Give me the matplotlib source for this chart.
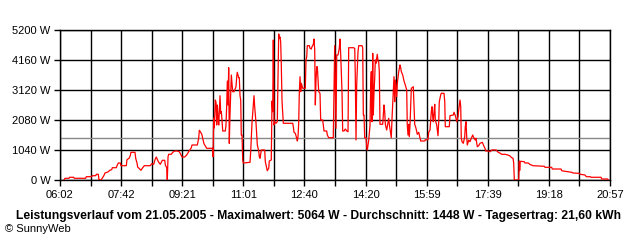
import numpy as np
import matplotlib
matplotlib.use("Agg")
import matplotlib.pyplot as plt

# ----------------------------------------------
# DATA
# ----------------------------------------------
# minutes after 06:02 and power in W
minutes = [
    6.5, 8.1, 14.6, 15.8, 22.3, 23.3, 41.8, 42.8, 51.6, 52.6, 58.1, 59.1, 62.3, 63.5,
    66.7, 67.9, 71.1, 73.2, 76.5, 78.6, 80.9, 84.1, 85.1, 91.6, 92.8, 94.9, 98.1, 99.3,
    107.9, 109.0, 112.3, 114.4, 115.5, 122.0, 123.2, 125.3, 126.4, 129.7, 131.8, 133.9,
    137.2, 146.9, 149.2, 152.5, 154.6, 156.7, 160.0, 163.2, 166.5,
    170.4, 171.4, 173.6, 174.6, 175.8, 176.9, 181.1, 183.4, 186.7, 190.9, 194.1, 196.4,
    198.5, 202.9, 206.2, 209.4, 213.7, 214.8, 223.4, 225.7, 226.7, 229.0, 231.1, 232.2,
    234.3, 238.7, 248.5, 249.0, 250.1, 251.1, 252.7, 253.9, 255.0, 256.0, 257.1, 258.3,
    259.2, 260.4, 261.5, 262.5, 263.6, 264.8, 269.0, 270.1, 271.3, 272.3, 273.4, 274.5,
    275.5, 276.6, 277.8, 278.8, 279.9, 281.0, 283.2, 286.4, 287.6, 288.5, 289.7, 290.8,
    291.8, 292.9, 294.1, 295.0, 296.2, 297.3, 298.3, 309.2, 310.3, 312.4, 314.6, 315.7,
    316.8, 319.0, 321.1, 323.4, 324.3, 325.5, 327.6, 333.1,
    334.1, 336.4, 337.3, 339.6, 340.6, 343.8, 345.0, 346.1, 347.1, 348.3, 349.4, 351.5,
    353.6, 354.8, 355.9, 356.9, 358.0, 359.1, 360.1, 361.3, 363.4, 378.7, 379.7, 380.8,
    382.9, 385.2, 386.2, 387.3, 388.4, 389.4, 390.6, 391.7, 392.7, 395.0, 399.2, 400.3,
    401.5, 402.4, 405.7, 406.8, 408.9, 410.1, 412.2, 413.3, 414.5, 415.5, 416.6, 417.7,
    418.7, 421.0, 423.1, 424.2, 427.5, 428.5, 429.6, 434.0, 435.0, 437.2, 444.7, 445.9,
    447.0, 448.0, 449.1, 450.3, 452.4, 453.5, 454.5, 455.6, 456.8, 458.9, 460.0, 462.2,
    464.3, 466.6, 468.7, 469.8, 477.3, 479.6, 480.5, 481.7, 482.8, 484.9, 486.1, 491.4,
    492.6, 493.6, 494.7, 495.8, 498.0, 499.1, 500.1, 501.2, 502.4, 503.3, 504.5, 505.6,
    506.6, 507.7, 508.9, 509.8, 511.0, 512.1, 513.1, 514.2, 516.3, 517.5, 518.6, 519.6,
    520.7, 525.1, 527.2, 528.4, 529.4, 531.6, 532.6, 534.9, 535.9, 538.1, 539.1, 540.3,
    542.4, 543.5, 544.7, 545.6, 547.9, 548.9, 551.2, 553.3, 554.4, 555.4, 557.7, 559.8,
    561.9, 564.2, 565.1, 566.3, 567.4, 568.4, 569.6, 571.7, 574.9, 577.2, 579.3, 581.4,
    583.7, 584.7, 587.0, 593.5, 594.5, 598.8, 600.0, 602.1, 604.2, 605.4, 606.5, 607.5,
    608.6, 609.8, 610.7, 613.0, 615.1, 616.3, 617.2, 619.5, 620.5, 624.9, 626.1, 627.0,
    633.5, 634.6, 640.0, 641.2, 643.3, 644.4, 645.6, 647.7, 648.8, 649.8, 650.9, 652.1,
    653.0, 654.2, 656.3, 657.4, 658.6, 659.5, 660.7, 661.8, 662.8, 665.1, 667.2, 669.3,
    671.6, 673.7, 675.8, 676.9, 679.1, 681.3, 683.5,
    687.2, 689.5, 691.6, 692.7, 697.0, 700.2, 702.5, 710.0, 711.1, 713.2, 716.5, 718.8,
    724.2, 728.5, 731.8, 735.0, 737.2, 738.3, 739.3, 746.4, 747.4, 748.0, 749.0, 755.6,
    756.7, 762.1, 764.4, 769.7, 788.1, 789.2, 800.1, 801.1, 815.3, 816.4, 821.8, 832.7,
    834.8, 844.6, 846.7, 854.3, 856.5, 863.0, 864.1, 880.4, 881.5, 891.2, 892.2,
]
watts = [
    0, 59, 59, 94, 94, 59, 59, 114, 114, 149, 149, 198, 198, 0,
    0, 35, 139, 243, 267, 288, 336, 357, 426, 426, 496, 589, 589, 496,
    496, 704, 752, 842, 960, 960, 752, 589, 451, 381, 336, 406,
    496, 496, 565, 544, 704, 797, 634, 544, 683,
    683, 520, 426, 0, 808, 891, 891, 960, 1005, 1005, 981, 891,
    797, 797, 867, 981, 1120, 1213, 1213, 1446, 1723, 1654, 1560, 1446,
    1258, 1099, 1099, 808, 2149, 1803, 2773, 2694, 1907, 2600, 2194, 1907,
    2312, 2922, 2312, 2368, 2080, 1699, 1699, 1907, 2600, 3432, 2600, 3893,
    1272, 2253, 3061, 3640, 3352, 3061, 3061, 3234, 3581, 3734, 3640, 3546,
    3546, 2922, 2773, 1560, 1560, 693, 589, 614, 981, 1966, 2600, 2922,
    2541, 1966, 1213, 1005, 808, 752, 1040, 1040,
    634, 406, 322, 406, 659, 693, 2739, 2368, 4853, 1907, 2021, 1966,
    2021, 3640, 5064, 4912, 4957, 4794, 3987, 2739, 1966, 1966, 1848, 1654,
    1619, 1446, 1352, 1501, 1966, 3006, 3581, 3061, 3352, 3179, 3179, 4160,
    4274, 4656, 4656, 4566, 4541, 4621, 4704, 4888, 4507, 2600, 3467, 3928,
    3928, 3061, 3006, 2080, 2080, 1907, 1699, 1699, 1560, 1466, 1466, 3061,
    4656, 3293, 1792, 4333, 4333, 4448, 4586, 4888, 4333, 3061, 1699, 1699,
    1768, 1699, 1674, 4586, 4586, 4566, 3640, 1387, 3293, 4448, 4656, 4656,
    4586, 2253, 2253, 1466, 1466, 1154, 1040, 1213, 1387, 1619, 1907, 3293,
    3754, 2021, 4392, 2253, 3061, 3526, 4160, 4045, 4358, 4125, 4101, 3754,
    1931, 1931, 2600, 2368, 1931, 1733, 1848, 2139, 1931, 1619, 1466, 2139,
    3061, 3581, 2714, 3467, 2888, 3352, 3754, 3987, 3893, 3754, 3640, 3432,
    3293, 3120, 1907, 1560, 1931, 1501, 1931, 3179, 3234, 1931, 1792, 1584,
    1654, 1560, 1352, 1352, 1397, 1397, 1654, 1733, 2368, 2541, 2194, 2021,
    2347, 2624, 2080, 1907, 1536, 2021, 2714, 2947, 3006, 3006, 2714, 1848,
    1848, 2229, 2253, 2347, 2229, 2139, 2021, 2194, 2427, 2600, 2773, 2541,
    1446, 1328, 1272, 1387, 1501, 1848, 2021, 1501, 1213, 1387, 1328, 1446,
    1560, 1446, 1387, 1446, 1154, 1189, 1272,
    1307, 1189, 1099, 1005, 1005, 981, 1040, 1040, 1005, 960, 926, 891,
    891, 867, 842, 773, 752, 579, 0, 0, 659, 329, 648, 634,
    589, 589, 544, 496, 475, 440, 440, 381, 381, 322, 302, 267,
    243, 232, 198, 173, 114, 114, 94, 94, 35, 35, 0,
]

mean_power = 1448
y_ticks = [0, 1040, 2080, 3120, 4160, 5200]
x_labels = ["06:02", "07:42", "09:21", "11:01", "12:40", "14:20", "15:59", "17:39", "19:18", "20:57"]
day_span = 895  # 06:02 -> 20:57 in minutes

title = ("Leistungsverlauf vom 21.05.2005 - Maximalwert: 5064 W - "
         "Durchschnitt: 1448 W - Tagesertrag: 21,60 kWh")

# ----------------------------------------------
# PLOT
# ----------------------------------------------
plt.rcParams['font.family'] = ['Liberation Sans', 'DejaVu Sans']

fig = plt.figure(figsize=(6.4, 2.4), dpi=100)
ax = fig.add_axes([60 / 640, 60 / 240, 550 / 640, 150 / 240])

x_grid = np.linspace(0, day_span, 19)
for xv in x_grid:
    ax.axvline(xv, color='black', lw=1.0, zorder=1)
for yv in y_ticks:
    ax.axhline(yv, color='black', lw=1.0, zorder=1)

ax.axhline(mean_power, color='#888888', lw=1.0, zorder=2)
ax.plot(minutes, watts, color='#ff0000', lw=0.9, zorder=3)

ax.set_xlim(0, day_span)
ax.set_ylim(0, 5200)

ax.set_xticks(x_grid)
ax.set_xticklabels([x_labels[i // 2] if i % 2 == 0 else "" for i in range(19)])
ax.set_yticks(y_ticks)
ax.set_yticklabels([f"{v} W" for v in y_ticks])
ax.tick_params(axis='both', direction='out', length=4, width=1.0,
               color='black', labelsize=8, pad=3)

for side in ['top', 'right', 'bottom', 'left']:
    ax.spines[side].set_color('black')
    ax.spines[side].set_linewidth(1.0)

fig.text(319 / 640, 1 - 216 / 240, title, ha='center', va='center',
         fontsize=8.7, fontweight='bold')
fig.text(5 / 640, 1 - 229.5 / 240, "\u00a9 SunnyWeb", ha='left', va='center',
         fontsize=8)

fig.savefig("out.png", dpi=100)
